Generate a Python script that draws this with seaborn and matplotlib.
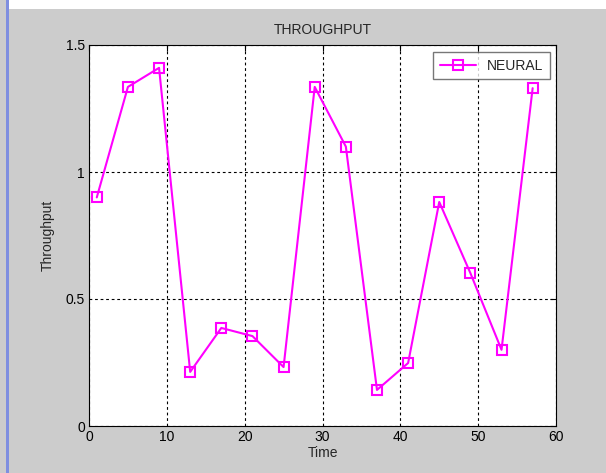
import matplotlib
matplotlib.use("Agg")
import matplotlib.pyplot as plt
import seaborn as sns
from matplotlib.patches import Rectangle

time = [1, 5, 9, 13, 17, 21, 25, 29, 33, 37, 41, 45, 49, 53, 57]
throughput = [0.90, 1.335, 1.41, 0.213, 0.386, 0.354, 0.232, 1.335, 1.10, 0.142, 0.248, 0.882, 0.602, 0.30, 1.33]
xticks = [0, 10, 20, 30, 40, 50, 60]
yticks = [0, 0.5, 1, 1.5]
yticklabels = ["0", "0.5", "1", "1.5"]

sns.set_style("white")
plt.rcParams['font.family'] = ['Liberation Sans', 'DejaVu Sans']

fig = plt.figure(figsize=(6.06, 4.73), dpi=100)
fig.patch.set_facecolor("#cccccc")
# window decorations
fig.patches.append(Rectangle((9/606, 1 - 9/473), 1, 9/473, transform=fig.transFigure,
                             facecolor="white", edgecolor="none", zorder=0))
fig.patches.append(Rectangle((6/606, 0), 3/606, 1, transform=fig.transFigure,
                             facecolor="#7f8fe0", edgecolor="none", zorder=0))

ax = fig.add_axes([89/606, 47/473, 467/606, 381/473])
ax.set_facecolor("white")

sns.lineplot(x=time, y=throughput, ax=ax, color="#ff00ff", marker="s",
             markerfacecolor="none", markeredgecolor="#ff00ff", markeredgewidth=1.5,
             markersize=7, linewidth=1.5, label="NEURAL")

ax.set_xlim(0, 60)
ax.set_ylim(0, 1.5)
ax.set_xticks(xticks)
ax.set_yticks(yticks)
ax.set_yticklabels(yticklabels)
ax.grid(True, color="black", linestyle=(0, (2.5, 2.5)), linewidth=0.8)
ax.tick_params(direction="in", length=4, width=0.8, top=True, right=True,
               labelsize=10, colors="black", pad=3)
for s in ax.spines.values():
    s.set_color("black")
    s.set_linewidth(0.8)

ax.set_title("THROUGHPUT", fontsize=10, pad=8)
ax.set_xlabel("Time", fontsize=10, labelpad=1)
ax.set_ylabel("Throughput", fontsize=10, labelpad=8)

leg = ax.legend(loc="upper right", fontsize=10, frameon=True, fancybox=False,
                handlelength=2.6, borderpad=0.45, bbox_to_anchor=(1.001, 0.999))
leg.get_frame().set_edgecolor("#555555")
leg.get_frame().set_linewidth(1)

fig.savefig("out.png", dpi=100, facecolor=fig.get_facecolor())
